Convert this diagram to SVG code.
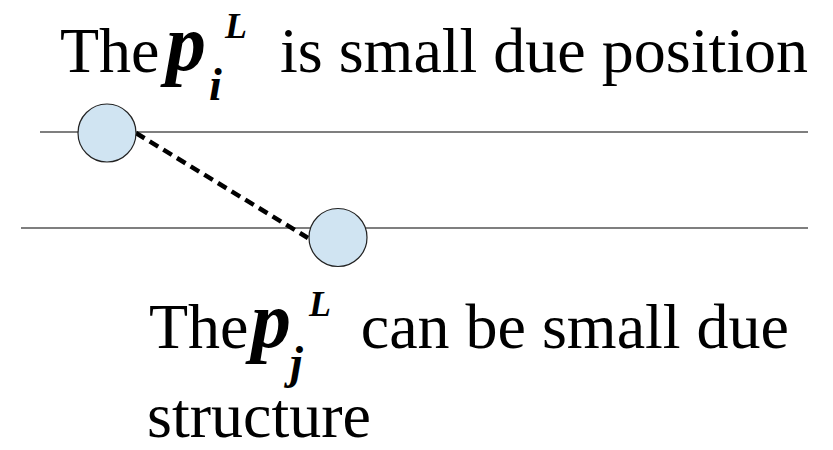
<svg xmlns="http://www.w3.org/2000/svg" width="833" height="450" viewBox="0 0 833 450">
<style>
.t{font-family:"Liberation Serif","Times New Roman",serif;font-size:64px;fill:#000}
.m{font-family:"Liberation Serif","Times New Roman",serif;font-weight:bold;font-style:italic;fill:#000}
.rail{stroke:#555;stroke-width:1.4;fill:none}
.node{fill:#d0e4f2;stroke:#222;stroke-width:1.2}
.link{stroke:#000;stroke-width:4.5;stroke-dasharray:10 6;fill:none}
</style>
<rect width="833" height="450" fill="#fff"/>
<g id="rails">
<line class="rail" x1="40" y1="132" x2="808" y2="132"/>
<line class="rail" x1="21" y1="228" x2="808" y2="228"/>
</g>
<g id="connectors">
<line class="link" x1="136" y1="133" x2="308" y2="238"/>
</g>
<g id="node-i">
<circle class="node" cx="107" cy="133" r="29"/>
</g>
<g id="node-j">
<circle class="node" cx="338" cy="237.5" r="29"/>
</g>
<g id="label-top">
<text class="t" x="60" y="72">The</text>
<text class="m" x="166" y="70" font-size="80">p</text>
<text class="m" x="225" y="38" font-size="36">L</text>
<text class="m" x="209" y="100" font-size="46">i</text>
<text class="t" x="808" y="72" text-anchor="end">is small due position</text>
</g>
<g id="label-bottom">
<text class="t" x="149" y="348">The</text>
<text class="m" x="251" y="347" font-size="80">p</text>
<text class="m" x="309" y="316" font-size="36">L</text>
<text class="m" x="290" y="378" font-size="46">j</text>
<text class="t" x="789" y="348" text-anchor="end">can be small due</text>
<text class="t" x="147" y="437">structure</text>
</g>
</svg>
